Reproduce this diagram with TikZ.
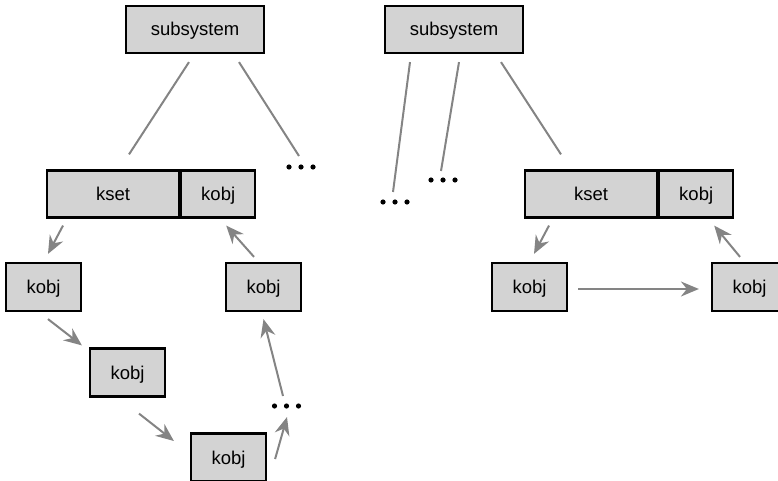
\documentclass[tikz,border=0pt]{standalone}
\usepackage{fontspec}
\setmainfont{Liberation Sans}
\usepackage{xcolor}
\usetikzlibrary{positioning,arrows.meta}
\definecolor{boxgray}{RGB}{211,211,211}
\definecolor{linegray}{RGB}{132,132,132}

\begin{document}
\begin{tikzpicture}[x=1pt,y=-1pt,
    box/.style={draw, fill=boxgray, line width=2.2pt, inner sep=0pt,
        minimum height=47pt, text height=13pt, text depth=0pt,
        font=\fontsize{18.5}{22}\selectfont},
    sub/.style={box, minimum width=138pt},
    setbox/.style={box, minimum width=132pt},
    objbox/.style={box, minimum width=75pt, minimum height=48pt},
    link/.style={draw=linegray, line width=2pt},
    arr/.style={link, -{Stealth[length=18pt,width=15pt,inset=6pt]}},
    dotrow/.style={minimum width=36pt, minimum height=22pt, inner sep=0pt,
        path picture={\foreach \i in {-12,0,12}
            \fill ([xshift=\i pt]path picture bounding box.center) circle (2.6pt);}}]
    \useasboundingbox (0,0) rectangle (778,481);
    \clip (0,0) rectangle (778,481);

    \node[sub] (subL) at (195,29.5) {subsystem};
    \node[sub] (subR) at (454,29.5) {subsystem};

    \node[setbox] (ksetL) at (113,194) {kset};
    \node[box, minimum width=74pt, right=0pt of ksetL] (kobjL) {kobj};
    \node[setbox] (ksetR) at (591,194) {kset};
    \node[box, minimum width=74pt, right=0pt of ksetR] (kobjR) {kobj};

    \node[objbox] (ka) at (43.5,287) {kobj};
    \node[objbox] (kb) at (263.5,287) {kobj};
    \node[objbox] (kc) at (127.5,372.5) {kobj};
    \node[objbox] (kd) at (228.5,457.5) {kobj};
    \node[objbox] (ke) at (529.5,287) {kobj};
    \node[objbox] (kf) at (749.5,287) {kobj};

    \node[dotrow] (dotsA) at (301,167) {};
    \node[dotrow] (dotsB) at (286.5,406) {};
    \node[dotrow] (dotsC) at (395,202) {};
    \node[dotrow] (dotsD) at (443,180) {};

    % subsystem links
    \draw[link] ([xshift=-6pt,yshift=-8pt]subL.south) -- ([xshift=16pt,yshift=15pt]ksetL.north);
    \draw[link] ([xshift=44pt,yshift=-8pt]subL.south) -- ([xshift=-2pt,yshift=11pt]dotsA.center);
    \draw[link] ([xshift=-44pt,yshift=-8pt]subR.south) -- ([xshift=-2pt,yshift=10pt]dotsC.center);
    \draw[link] ([xshift=5pt,yshift=-8pt]subR.south) -- ([xshift=-2pt,yshift=9pt]dotsD.center);
    \draw[link] ([xshift=47pt,yshift=-8pt]subR.south) -- ([xshift=-30pt,yshift=15pt]ksetR.north);

    % left list
    \draw[arr] ([xshift=-50pt,yshift=-7pt]ksetL.south) -- ([xshift=4.5pt,yshift=8pt]ka.north);
    \draw[arr] ([xshift=4.5pt,yshift=-7pt]ka.south) -- ([xshift=-7pt,yshift=2pt]kc.north west);
    \draw[arr] ([xshift=11.5pt,yshift=-16pt]kc.south) -- ([xshift=-16pt,yshift=16.5pt]kd.west);
    \draw[arr] ([xshift=8pt,yshift=-1.5pt]kd.east) -- ([xshift=0.5pt,yshift=-11pt]dotsB.center);
    \draw[arr] ([xshift=-3.5pt,yshift=10pt]dotsB.center) -- ([yshift=-7pt]kb.south);
    \draw[arr] ([xshift=-9.5pt,yshift=5pt]kb.north) -- ([xshift=8pt,yshift=-7pt]kobjL.south);

    % right list
    \draw[arr] ([xshift=-42pt,yshift=-7pt]ksetR.south) -- ([xshift=4.5pt,yshift=8pt]ke.north);
    \draw[arr] ([xshift=10pt,yshift=-2pt]ke.east) -- ([xshift=-12pt,yshift=-2pt]kf.west);
    \draw[arr] ([xshift=-9.5pt,yshift=5pt]kf.north) -- ([xshift=18pt,yshift=-7pt]kobjR.south);
\end{tikzpicture}
\end{document}
